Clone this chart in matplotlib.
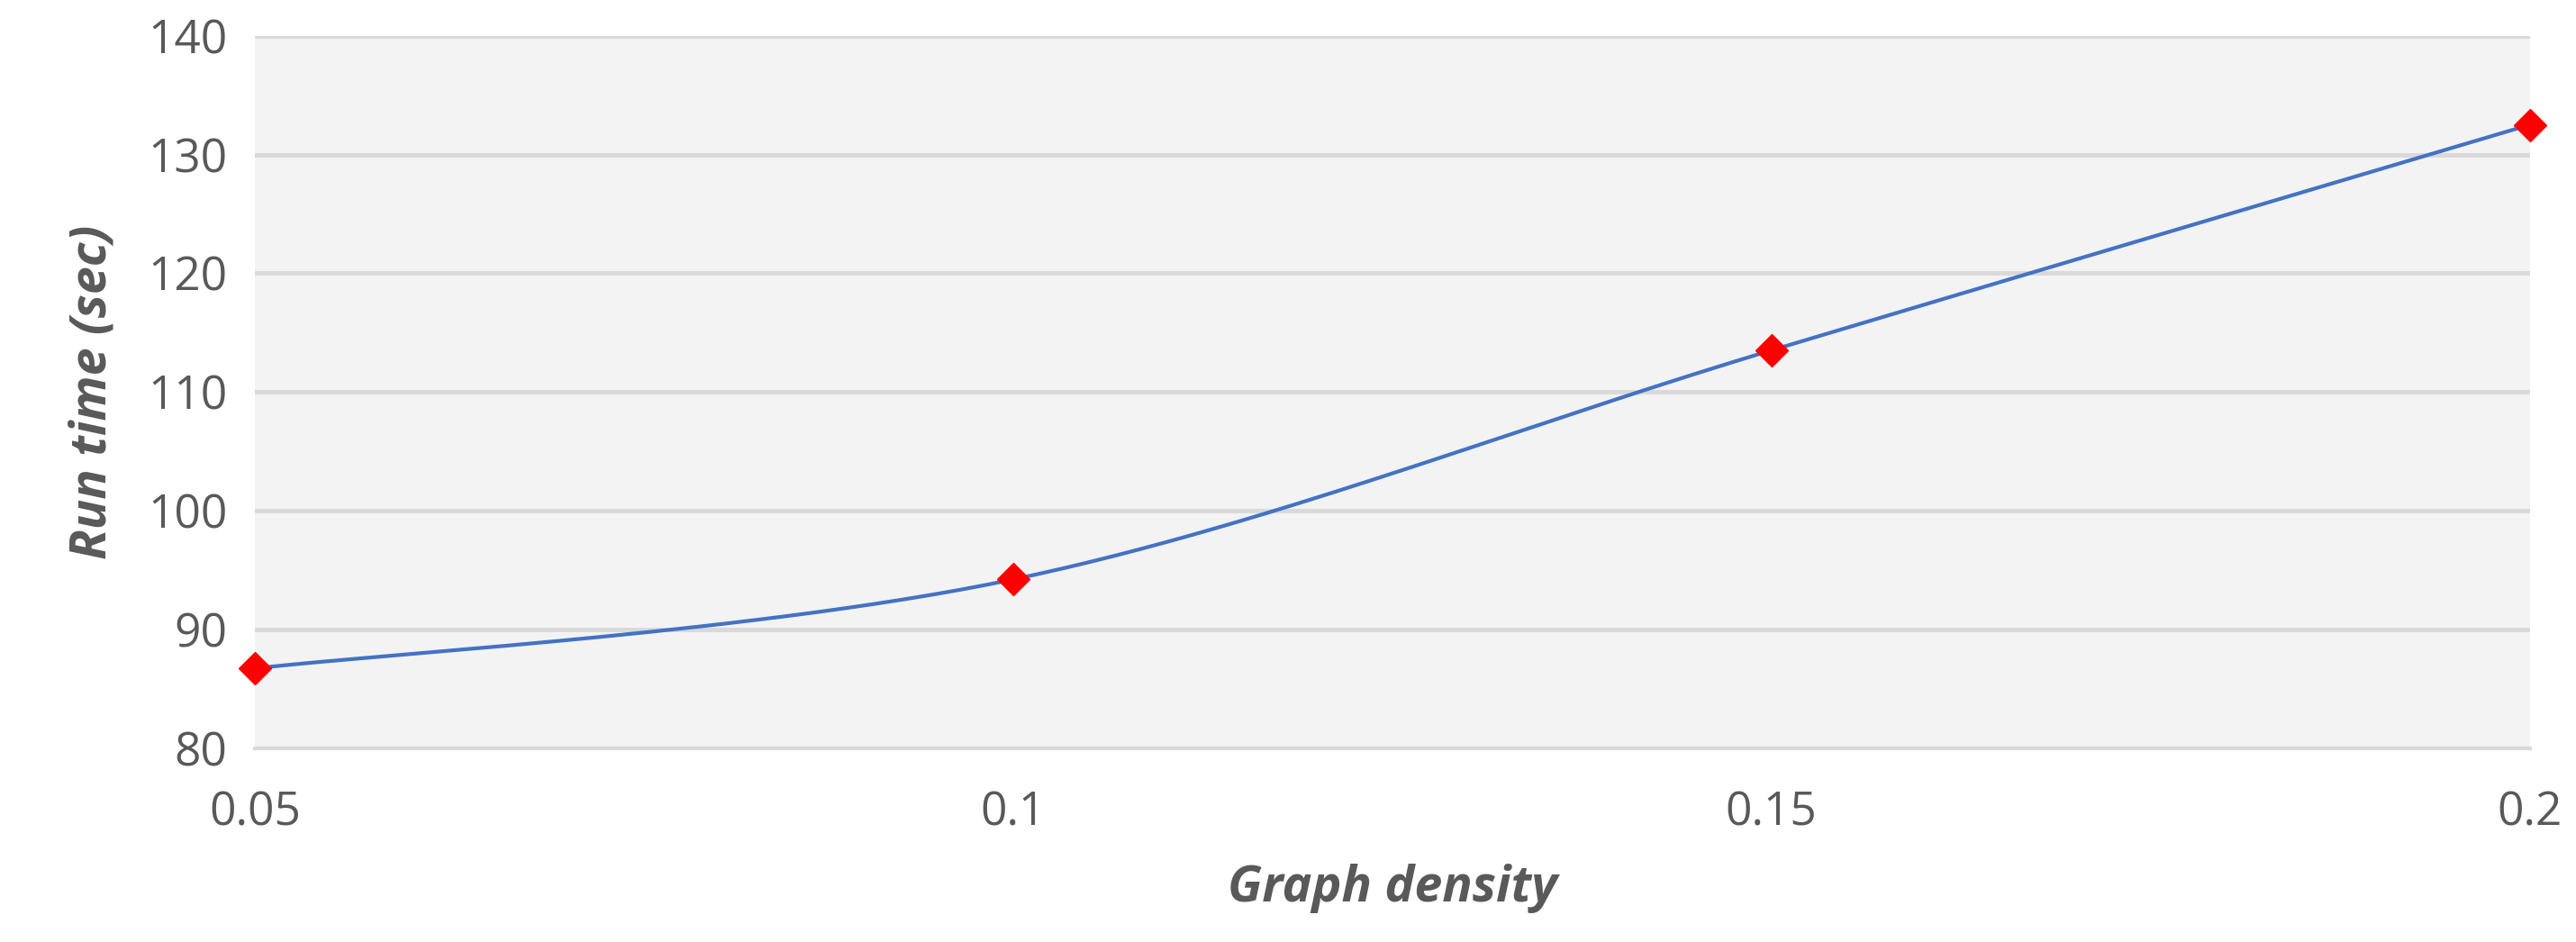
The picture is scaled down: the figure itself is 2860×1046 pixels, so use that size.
import numpy as np
import matplotlib.pyplot as plt

density = [0.05, 0.1, 0.15, 0.2]
run_time = [86.7, 94.2, 113.5, 132.5]
x_ticks = [0.05, 0.1, 0.15, 0.2]
x_tick_labels = ['0.05', '0.1', '0.15', '0.2']
y_ticks = [80, 90, 100, 110, 120, 130, 140]


def smooth(xs, ys, n=60):
    # Excel-style Catmull-Rom smoothing between points
    p = np.column_stack([xs, ys]).astype(float)
    p = np.vstack([p[0], p, p[-1]])
    out = []
    t = np.linspace(0, 1, n)[:, None]
    for i in range(1, len(p) - 2):
        p0, p1, p2, p3 = p[i - 1], p[i], p[i + 1], p[i + 2]
        seg = 0.5 * ((2 * p1) + (-p0 + p2) * t + (2 * p0 - 5 * p1 + 4 * p2 - p3) * t ** 2
                     + (-p0 + 3 * p1 - 3 * p2 + p3) * t ** 3)
        out.append(seg)
    out = np.vstack(out)
    return out[:, 0], out[:, 1]


plt.rcParams['font.family'] = ['Open Sans', 'DejaVu Sans']
fig = plt.figure(figsize=(28.6, 10.46), dpi=100)
ax = fig.add_axes([0.099, 0.206, 0.883, 0.756])
ax.set_facecolor('#f3f3f3')

sx, sy = smooth(density, run_time)
ax.plot(sx, sy, color='#4472C4', lw=3, zorder=3, clip_on=False)
ax.plot(density, run_time, linestyle='none', marker='D', color='#ff0000',
        markersize=18, zorder=4, clip_on=False)

ax.set_xlim(0.05, 0.2)
ax.set_ylim(80, 140)
ax.set_xticks(x_ticks, x_tick_labels)
ax.set_yticks(y_ticks)
ax.grid(axis='y', color='#d9d9d9', lw=3.5)
ax.set_axisbelow(True)
for s in ['top', 'right', 'left']:
    ax.spines[s].set_visible(False)
ax.spines['bottom'].set_color('#d9d9d9')
ax.spines['bottom'].set_linewidth(3)
ax.tick_params(length=0, labelsize=37, colors='#595959')
ax.tick_params(axis='x', pad=34)
ax.tick_params(axis='y', pad=22)

ax.set_xlabel('Graph density', fontsize=40, fontweight='bold', style='italic',
              color='#595959', labelpad=22)
ax.set_ylabel('Run time (sec)', fontsize=40, fontweight='bold', style='italic',
              color='#595959', labelpad=24)

fig.savefig('out.png', dpi=100, facecolor='white')
